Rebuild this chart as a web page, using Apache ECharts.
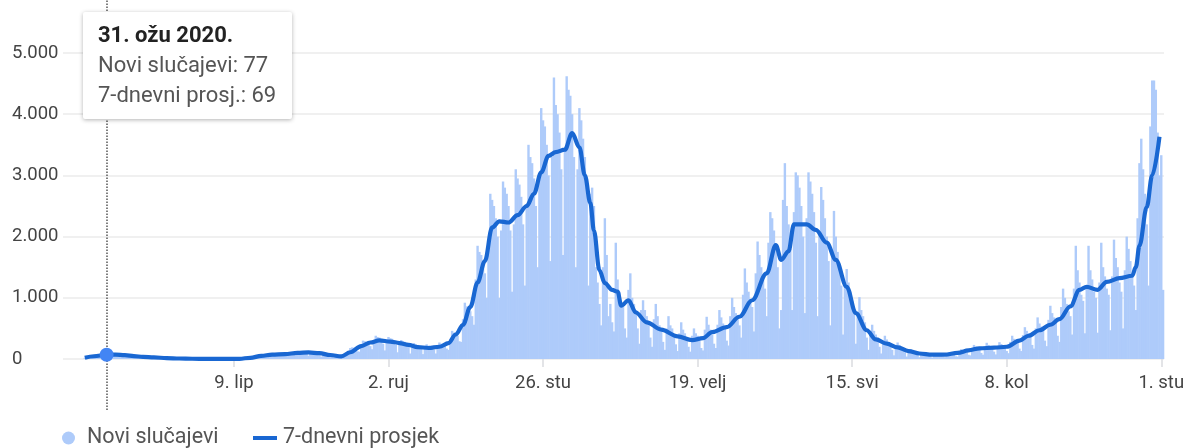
<!DOCTYPE html>
<html>
<head>
<meta charset="utf-8">
<script src="https://cdn.jsdelivr.net/npm/echarts@6/dist/echarts.min.js"></script>
<style>
html, body { margin: 0; padding: 0; background: #fff; }
#chart { width: 1190px; height: 448px; }
</style>
</head>
<body>
<div id="chart"></div>
<script>
// first day of data, axis range
var startDate = [2020, 2, 19];
var axisStart = [2020, 2, 7];
var axisEnd = [2021, 10, 2];
var markedDay = 12; // 31. ožu 2020.

var monthNames = ['sij', 'velj', 'ožu', 'tra', 'svi', 'lip', 'srp', 'kol', 'ruj', 'lis', 'stu', 'pro'];
var tickDates = [[2020, 5, 9], [2020, 8, 2], [2020, 10, 26], [2021, 1, 19], [2021, 4, 15], [2021, 7, 8], [2021, 10, 1]];
var yTicks = [0, 1000, 2000, 3000, 4000, 5000];

// daily new cases, from Thu 19.3.2020, one line per week (Mon..Sun)
var newCases = [
    20, 32, 48, 38,
    40, 55, 70, 62, 68, 60, 50,
    55, 77, 85, 80, 75, 70, 60,
    45, 62, 70, 66, 65, 55, 48,
    35, 48, 55, 50, 45, 42, 30,
    22, 30, 38, 32, 30, 28, 20,
    12, 18, 22, 20, 18, 16, 12,
    6, 10, 12, 11, 10, 9, 7,
    3, 5, 6, 6, 5, 4, 3,
    1, 2, 3, 2, 2, 1, 1,
    0, 1, 2, 1, 1, 0, 1,
    0, 1, 1, 0, 2, 1, 0,
    1, 2, 3, 2, 4, 3, 2,
    5, 15, 25, 30, 28, 25, 20,
    35, 55, 75, 70, 68, 65, 50,
    50, 70, 90, 85, 85, 80, 65,
    55, 80, 105, 100, 95, 90, 70,
    60, 100, 130, 125, 120, 110, 90,
    55, 95, 125, 120, 115, 105, 85,
    40, 70, 90, 80, 78, 70, 60,
    25, 45, 55, 52, 50, 48, 40,
    70, 130, 180, 190, 185, 170, 125,
    120, 220, 300, 290, 280, 260, 210,
    160, 280, 380, 360, 350, 320, 250,
    140, 270, 360, 340, 330, 300, 230,
    110, 230, 310, 290, 280, 260, 200,
    90, 190, 260, 240, 230, 210, 170,
    80, 175, 240, 220, 210, 190, 150,
    90, 200, 270, 250, 240, 220, 170,
    150, 330, 460, 430, 410, 380, 290,
    280, 650, 920, 860, 850, 780, 700,
    560, 1300, 1850, 1750, 1700, 1550, 1400,
    1000, 1900, 2700, 2600, 2500, 2300, 2000,
    1000, 2100, 2900, 2800, 2700, 2500, 2100,
    1100, 2200, 3100, 2950, 2850, 2650, 2200,
    1200, 2500, 3500, 3300, 3200, 2950, 2500,
    1500, 3000, 4100, 3900, 3800, 3500, 3000,
    1600, 3300, 4600, 4150, 4000, 3700, 3100,
    1700, 3400, 4620, 4400, 4300, 4000, 3300,
    1500, 3100, 4100, 3900, 3600, 3300, 2700,
    1200, 2700, 2800, 2500, 1500, 1250, 900,
    550, 1500, 2300, 1700, 700, 900, 600,
    450, 1900, 1300, 1100, 900, 900, 500,
    350, 1130, 1400, 1000, 900, 800, 500,
    250, 800, 960, 800, 700, 600, 350,
    200, 650, 900, 700, 550, 450, 280,
    150, 500, 700, 550, 500, 400, 240,
    130, 420, 600, 480, 420, 330, 200,
    120, 380, 500, 420, 380, 300, 180,
    140, 480, 690, 560, 480, 400, 250,
    180, 560, 800, 680, 580, 500, 300,
    220, 700, 1000, 850, 750, 650, 550,
    350, 1050, 1480, 1250, 1100, 950, 850,
    450, 1400, 1920, 1700, 1500, 1300, 1150,
    700, 1900, 2400, 2300, 2100, 1850, 1500,
    500, 800, 2600, 3200, 2500, 2200, 1800,
    800, 2400, 3050, 3000, 2800, 2500, 2000,
    750, 2300, 3050, 2900, 2700, 2400, 1900,
    700, 2100, 2810, 2600, 2300, 2000, 1600,
    550, 1700, 2420, 2000, 1750, 1500, 1200,
    400, 1200, 1470, 1250, 1100, 950, 750,
    250, 750, 1010, 800, 700, 600, 350,
    150, 420, 560, 460, 400, 350, 200,
    90, 280, 380, 320, 280, 240, 150,
    60, 200, 270, 230, 200, 170, 110,
    40, 120, 160, 140, 120, 100, 65,
    30, 85, 110, 95, 85, 75, 45,
    25, 70, 95, 80, 75, 65, 40,
    30, 80, 110, 95, 85, 75, 45,
    40, 120, 160, 135, 125, 110, 70,
    60, 170, 230, 200, 180, 160, 100,
    70, 195, 265, 230, 210, 185, 120,
    75, 205, 275, 245, 225, 195, 130,
    95, 280, 380, 330, 300, 260, 170,
    130, 390, 520, 460, 420, 360, 230,
    170, 500, 680, 580, 530, 460, 300,
    210, 640, 870, 750, 680, 590, 380,
    280, 850, 1150, 1000, 900, 780, 700,
    400, 1150, 1850, 1450, 1250, 1050, 950,
    420, 1200, 1850, 1450, 1300, 1100, 1000,
    430, 1250, 1900, 1500, 1350, 1150, 1050,
    470, 1350, 1950, 1650, 1500, 1250, 1100,
    500, 1450, 2000, 1800, 1600, 1350, 1200,
    800, 2300, 3200, 3600, 3100, 2700, 2200,
    1200, 3800, 4550, 4550, 4400, 3700, 3000,
    3330, 1130
];

// 7-day average
var avgPoints = [
    ['2020-03-19', 20], ['2020-03-24', 45], ['2020-03-31', 69], ['2020-04-05', 72],
    ['2020-04-10', 62], ['2020-04-15', 48], ['2020-04-20', 35], ['2020-04-26', 25],
    ['2020-05-03', 15], ['2020-05-10', 8], ['2020-05-17', 4], ['2020-05-25', 1],
    ['2020-06-05', 1], ['2020-06-12', 3], ['2020-06-18', 20], ['2020-06-24', 50],
    ['2020-06-30', 72], ['2020-07-07', 80], ['2020-07-14', 100], ['2020-07-20', 108],
    ['2020-07-26', 95], ['2020-08-01', 65], ['2020-08-07', 42], ['2020-08-12', 110],
    ['2020-08-18', 210], ['2020-08-23', 270], ['2020-08-28', 305], ['2020-09-03', 285],
    ['2020-09-08', 260], ['2020-09-13', 230], ['2020-09-18', 195], ['2020-09-24', 180],
    ['2020-09-30', 200], ['2020-10-05', 260], ['2020-10-09', 400], ['2020-10-13', 560],
    ['2020-10-17', 850], ['2020-10-21', 1250], ['2020-10-25', 1600], ['2020-10-29', 2150],
    ['2020-11-02', 2250], ['2020-11-07', 2230], ['2020-11-12', 2350], ['2020-11-17', 2500],
    ['2020-11-21', 2700], ['2020-11-25', 3050], ['2020-11-29', 3320], ['2020-12-03', 3380],
    ['2020-12-08', 3420], ['2020-12-12', 3690], ['2020-12-16', 3460], ['2020-12-19', 3000],
    ['2020-12-22', 2550], ['2020-12-24', 2100], ['2020-12-27', 1450], ['2020-12-30', 1240],
    ['2021-01-03', 1130], ['2021-01-06', 1100], ['2021-01-08', 870], ['2021-01-12', 960],
    ['2021-01-16', 760], ['2021-01-22', 600], ['2021-01-30', 480], ['2021-02-08', 370],
    ['2021-02-16', 310], ['2021-02-22', 340], ['2021-02-27', 440], ['2021-03-07', 520],
    ['2021-03-14', 690], ['2021-03-21', 960], ['2021-03-29', 1400], ['2021-04-03', 1860],
    ['2021-04-06', 1620], ['2021-04-10', 1760], ['2021-04-13', 2200], ['2021-04-20', 2200],
    ['2021-04-25', 2110], ['2021-05-01', 1900], ['2021-05-06', 1620], ['2021-05-12', 1180],
    ['2021-05-17', 750], ['2021-05-23', 470], ['2021-05-28', 320], ['2021-06-03', 250],
    ['2021-06-09', 190], ['2021-06-15', 130], ['2021-06-21', 90], ['2021-06-28', 70],
    ['2021-07-05', 70], ['2021-07-12', 100], ['2021-07-18', 140], ['2021-07-24', 175],
    ['2021-08-01', 185], ['2021-08-08', 200], ['2021-08-15', 300], ['2021-08-20', 380],
    ['2021-08-26', 470], ['2021-09-01', 560], ['2021-09-06', 650], ['2021-09-12', 860],
    ['2021-09-17', 1130], ['2021-09-21', 1180], ['2021-09-27', 1130], ['2021-10-02', 1260],
    ['2021-10-09', 1320], ['2021-10-16', 1360], ['2021-10-18', 1500], ['2021-10-20', 1850],
    ['2021-10-24', 2480], ['2021-10-27', 3000], ['2021-10-31', 3630]
];

var FONT = 'Roboto, Arial, sans-serif';

function dayTs(y, m, d) {
    return new Date(y, m, d).getTime();
}

function parseDay(s) {
    var parts = s.split('-');
    return dayTs(+parts[0], parts[1] - 1, +parts[2]);
}

function fmt(v) {
    return String(Math.round(v)).replace(/\B(?=(\d{3})+(?!\d))/g, '.');
}

function dayLabel(date) {
    return date.getDate() + '. ' + monthNames[date.getMonth()];
}

var barData = [];
for (var i = 0; i < newCases.length; i++) {
    barData.push([dayTs(startDate[0], startDate[1], startDate[2] + i), newCases[i]]);
}
var lineData = avgPoints.map(function (p) { return [parseDay(p[0]), p[1]]; });
var tickTs = tickDates.map(function (t) { return dayTs(t[0], t[1], t[2]); });
var markTs = barData[markedDay][0];
var markAvg = null;
lineData.forEach(function (p) {
    if (p[0] === markTs) markAvg = p[1];
});

var xMin = dayTs(axisStart[0], axisStart[1], axisStart[2]);
var xMax = new Date(axisEnd[0], axisEnd[1], axisEnd[2], 12).getTime();

var chart = echarts.init(document.getElementById('chart'));
chart.setOption({
    animation: false,
    grid: [
        {left: 63, right: 26, top: 53, bottom: 89},
        {left: 63, right: 26, top: 0, bottom: 38}
    ],
    tooltip: {
        trigger: 'axis',
        triggerOn: 'none',
        alwaysShowContent: true,
        transitionDuration: 0,
        axisPointer: {type: 'none'},
        position: [83, 12],
        backgroundColor: '#fff',
        borderWidth: 0,
        padding: [8, 16, 9, 15],
        extraCssText: 'box-shadow: 0 1px 4px rgba(0,0,0,0.3); border-radius: 2px; line-height: 30px;',
        textStyle: {fontFamily: FONT, fontSize: 22, color: '#555'},
        formatter: function (params) {
            var day = new Date(params[0].value[0]);
            var cases = '';
            var avg = markAvg;
            params.forEach(function (p) {
                if (p.seriesName === 'Novi slučajevi') cases = fmt(p.value[1]);
                if (p.seriesName === '7-dnevni prosjek' && avg === null) avg = p.value[1];
            });
            return '<div style="font-weight:bold;color:#222">' + dayLabel(day) + ' ' + day.getFullYear() + '.</div>' +
                '<div>Novi slučajevi: ' + cases + '</div>' +
                '<div>7-dnevni prosj.: ' + fmt(avg) + '</div>';
        }
    },
    legend: [
        {
            data: [{name: 'Novi slučajevi', icon: 'circle'}],
            left: 57, top: 422,
            itemWidth: 13, itemHeight: 13,
            selectedMode: false,
            textStyle: {fontFamily: FONT, fontSize: 21.5, color: '#555', padding: [0, 0, 0, 7]}
        },
        {
            data: [{name: '7-dnevni prosjek', icon: 'rect'}],
            left: 248, top: 422,
            itemWidth: 24, itemHeight: 4,
            selectedMode: false,
            textStyle: {fontFamily: FONT, fontSize: 21.5, color: '#555', padding: [0, 0, 0, 1]}
        }
    ],
    xAxis: [
        {
            type: 'value',
            gridIndex: 0,
            min: xMin,
            max: xMax,
            axisLine: {show: false},
            splitLine: {show: false},
            axisTick: {
                show: true,
                customValues: tickTs,
                length: 8,
                lineStyle: {color: '#dadce0', width: 1.5}
            },
            axisLabel: {
                customValues: tickTs,
                margin: 15,
                fontFamily: FONT,
                fontSize: 18.5,
                color: '#444',
                formatter: function (v) { return dayLabel(new Date(v)); }
            }
        },
        {
            type: 'value',
            gridIndex: 1,
            min: xMin,
            max: xMax,
            show: false
        }
    ],
    yAxis: [
        {
            type: 'value',
            gridIndex: 0,
            min: yTicks[0],
            max: yTicks[yTicks.length - 1],
            interval: yTicks[1] - yTicks[0],
            axisLine: {show: false},
            axisTick: {show: false},
            splitLine: {lineStyle: {color: '#ebebeb', width: 1.5}},
            axisLabel: {
                align: 'left',
                margin: 51,
                fontFamily: FONT,
                fontSize: 18.5,
                color: '#444',
                formatter: function (v) { return fmt(v); }
            }
        },
        {
            type: 'value',
            gridIndex: 1,
            min: 0,
            max: 1,
            show: false
        }
    ],
    series: [
        {
            name: 'Novi slučajevi',
            type: 'bar',
            xAxisIndex: 0,
            yAxisIndex: 0,
            data: barData,
            barWidth: 2.4,
            itemStyle: {color: '#aecbfa'},
            emphasis: {disabled: true}
        },
        {
            name: '7-dnevni prosjek',
            type: 'line',
            xAxisIndex: 0,
            yAxisIndex: 0,
            data: lineData,
            symbol: 'none',
            smooth: 0.35,
            smoothMonotone: 'x',
            itemStyle: {color: '#1967d2'},
            lineStyle: {color: '#1967d2', width: 4.2},
            emphasis: {disabled: true},
            z: 3,
            markPoint: {
                silent: true,
                symbol: 'circle',
                symbolSize: 14,
                itemStyle: {color: '#4285f4'},
                label: {show: false},
                data: [{coord: [markTs, markAvg]}]
            }
        },
        {
            name: 'pointer',
            type: 'line',
            xAxisIndex: 1,
            yAxisIndex: 1,
            data: [[markTs, 0]],
            symbol: 'none',
            lineStyle: {opacity: 0},
            tooltip: {show: false},
            silent: true,
            markLine: {
                silent: true,
                symbol: 'none',
                label: {show: false},
                lineStyle: {color: '#555', width: 1.5, type: [1.5, 1.5]},
                data: [{xAxis: markTs}]
            }
        }
    ]
});

chart.dispatchAction({type: 'showTip', seriesIndex: 0, dataIndex: markedDay});
</script>
</body>
</html>
